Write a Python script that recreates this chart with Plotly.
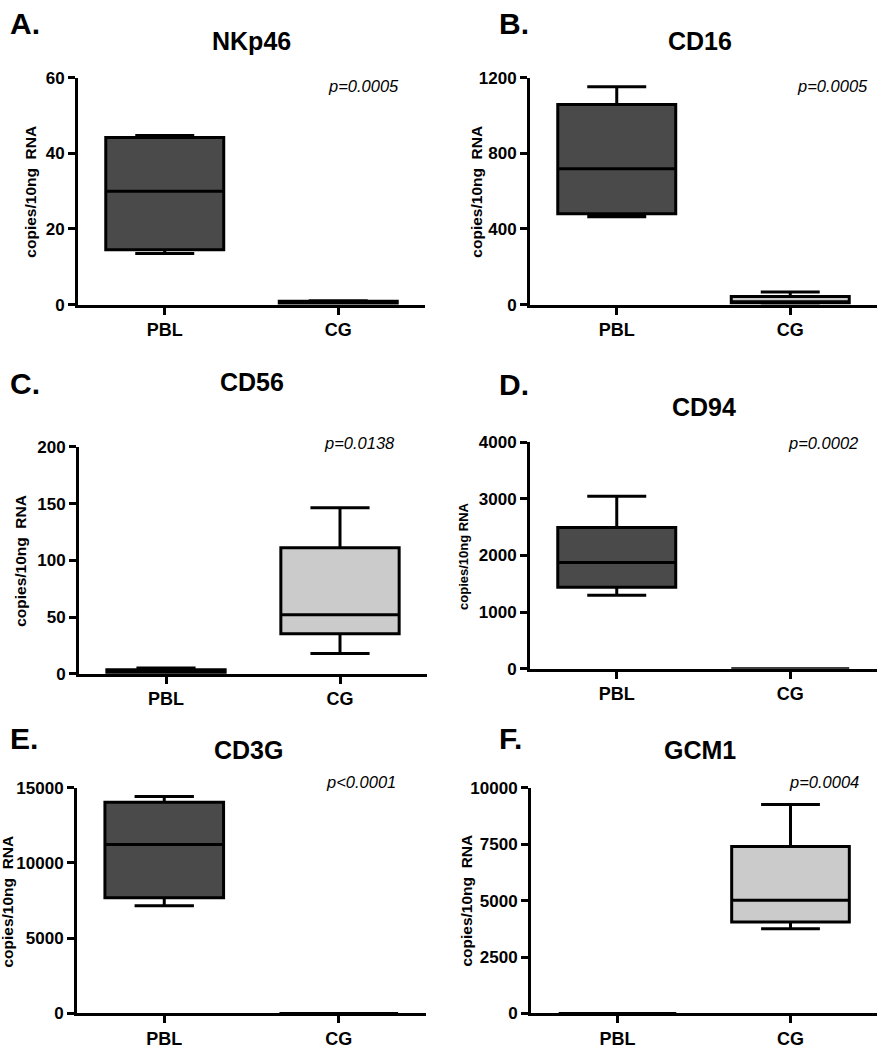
import plotly.graph_objects as go

W, H = 881, 1050

categories = ["PBL", "CG"]
genes = ["NKp46", "CD16", "CD56", "CD94", "CD3G", "GCM1"]
letters = ["A.", "B.", "C.", "D.", "E.", "F."]
p_values = ["p=0.0005", "p=0.0005", "p=0.0138", "p=0.0002", "p<0.0001", "p=0.0004"]
y_titles = ["copies/10ng  RNA", "copies/10ng  RNA", "copies/10ng  RNA",
            "copies/10ng RNA", "copies/10ng  RNA", "copies/10ng  RNA"]
y_max = [60, 1200, 200, 4000, 15000, 10000]
y_dtick = [20, 400, 50, 1000, 5000, 2500]

# box statistics per gene: [PBL, CG]
lower = [[13.5, 0.1], [464, 3], [0.5, 17.9], [1299, 0], [7152, 0], [0, 3757]]
q1 = [[14.5, 0.2], [481, 8], [1.0, 35.2], [1437, 0], [7694, 0], [0, 4046]]
median = [[30.0, 0.5], [718, 15], [2.0, 52], [1876, 0], [11228, 0], [0, 5014]]
q3 = [[44.2, 0.9], [1058, 43], [3.5, 111], [2494, 0], [14023, 0], [0, 7399]]
upper = [[44.7, 1.0], [1152, 66], [5.0, 146.3], [3042, 0], [14413, 0], [0, 9249]]

# layout (pixel positions)
domains_px = [
    ((78, 425), (70, 301)),
    ((530, 877), (70, 301)),
    ((79, 427), (446, 677)),
    ((530, 877), (441, 672)),
    ((77, 426), (793, 1023)),
    ((531, 877), (793, 1023)),
]
title_px = [(251, 33), (700, 33), (252, 380), (704, 405), (248, 755), (700, 755)]
letter_px = [(8, 15), (497, 15), (8, 381), (497, 382), (8, 743), (497, 743)]
pval_px = [(363, 78), (832, 78), (359, 442), (823, 442), (361, 787), (824, 787)]
ytitle_px = [(31, 186), (477, 186), (21, 562), (464, 557), (8, 909), (467, 908)]
ytitle_size = [15.5, 15.5, 15.5, 13, 15.5, 15.5]

fills = ["#4a4a4a", "#cbcbcb"]

def px_x(x):
    return x / W

def px_y(y):
    return 1 - y / H

fig = go.Figure()
annotations = []
FONT = "Liberation Sans, Arial, sans-serif"

for i in range(6):
    n = "" if i == 0 else str(i + 1)
    xa, ya = "x" + n, "y" + n
    for j, cat in enumerate(categories):
        fig.add_trace(go.Box(
            x=[cat], q1=[q1[i][j]], median=[median[i][j]], q3=[q3[i][j]],
            lowerfence=[lower[i][j]], upperfence=[upper[i][j]],
            fillcolor=fills[j], line=dict(color="black", width=3),
            width=0.68, whiskerwidth=0.5, boxpoints=False,
            xaxis=xa, yaxis=ya, showlegend=False, hoverinfo="skip",
        ))
    (x0, x1), (y0, y1) = domains_px[i]
    axis_common = dict(showline=True, linecolor="black", linewidth=3,
                       ticks="outside", tickwidth=3, tickcolor="black",
                       showgrid=False, zeroline=False, mirror=False)
    fig.layout["xaxis" + n] = dict(
        domain=[px_x(x0), px_x(x1)], anchor=ya, type="category",
        categoryorder="array", categoryarray=categories, range=[-0.5, 1.5],
        ticklen=7, tickfont=dict(family=FONT, size=18, color="black", weight="bold"),
        **axis_common)
    fig.layout["yaxis" + n] = dict(
        domain=[px_y(y1), px_y(y0)], anchor=xa, range=[0, y_max[i]],
        tick0=0, dtick=y_dtick[i], ticklen=7, tickformat="d",
        tickfont=dict(family=FONT, size=17, color="black", weight="bold"),
        **axis_common)

    tx, ty = title_px[i]
    annotations.append(dict(text=genes[i], x=px_x(tx), y=px_y(ty), xref="paper", yref="paper",
                            xanchor="center", yanchor="middle", showarrow=False,
                            font=dict(family=FONT, size=25, color="black", weight="bold")))
    lx, ly = letter_px[i]
    annotations.append(dict(text=letters[i], x=px_x(lx), y=px_y(ly), xref="paper", yref="paper",
                            xanchor="left", yanchor="middle", showarrow=False,
                            font=dict(family=FONT, size=30, color="black", weight="bold")))
    px_, py_ = pval_px[i]
    annotations.append(dict(text="<i>" + p_values[i] + "</i>", x=px_x(px_), y=px_y(py_),
                            xref="paper", yref="paper", xanchor="center", yanchor="middle",
                            showarrow=False, font=dict(family=FONT, size=16.5, color="black")))
    yx, yy = ytitle_px[i]
    annotations.append(dict(text=y_titles[i], x=px_x(yx), y=px_y(yy), xref="paper", yref="paper",
                            xanchor="center", yanchor="middle", textangle=-90, showarrow=False,
                            font=dict(family=FONT, size=ytitle_size[i], color="black", weight="bold")))

fig.update_layout(
    width=W, height=H, margin=dict(l=0, r=0, t=0, b=0),
    paper_bgcolor="white", plot_bgcolor="white",
    annotations=annotations, showlegend=False,
)

fig.write_html("out.html", config={"displayModeBar": False},
               post_script="document.body.style.margin='0';")
